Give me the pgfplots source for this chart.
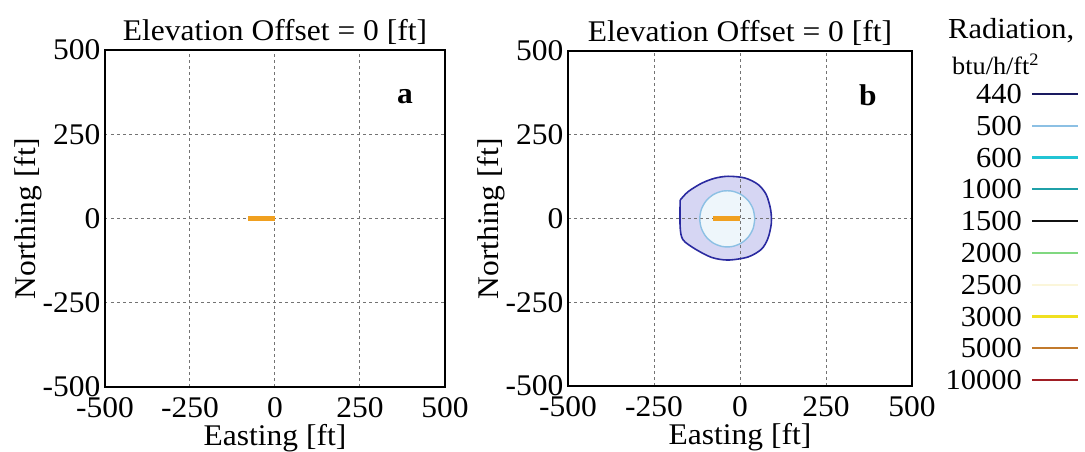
\documentclass[border=0pt]{standalone}
\usepackage{fontspec}
\setmainfont{Liberation Serif}[FakeStretch=1.05]
\usepackage{pgfplots}
\usepackage{pgfplotstable}
\pgfplotsset{compat=1.18}

\definecolor{c440}{HTML}{1A1A60}
\definecolor{c440line}{HTML}{2A2AA0}
\definecolor{c440fill}{HTML}{D6D6F3}
\definecolor{c500}{HTML}{8CC0E4}
\definecolor{c500fill}{HTML}{EEF6FB}
\definecolor{c600}{HTML}{22C4D4}
\definecolor{c1000}{HTML}{1FA0A8}
\definecolor{c1500}{HTML}{111111}
\definecolor{c2000}{HTML}{80D880}
\definecolor{c2500}{HTML}{FBF6DA}
\definecolor{c3000}{HTML}{F0E020}
\definecolor{c5000}{HTML}{C27A2C}
\definecolor{c10000}{HTML}{A01E24}
\definecolor{src}{HTML}{F0A020}

% radiation contour 440 btu/h/ft2
\pgfplotstableread{
x y
-174 55
-151 80
-112 105
-74 120
-35 126
14 121
52 102
76 72
89 27
91 -15
81 -60
62 -92
23 -115
-35 -124
-83 -116
-132 -90
-166 -63
-174 -25
-174 55
}\contourA

% radiation contour 500 btu/h/ft2
\pgfplotstableread{
x y
43 -1
38.2 27.7
24.3 53
3 71.7
-23.1 81.7
-50.9 81.7
-77 71.7
-98.3 53
-112.2 27.7
-117 -1
-112.2 -29.7
-98.3 -55
-77 -73.7
-50.9 -83.7
-23.1 -83.7
3 -73.7
24.3 -55
38.2 -29.7
43 -1
}\contourB

\newcommand{\bigfont}{\fontsize{30}{32}\selectfont}
\newcommand{\legfont}{\fontsize{29}{31}\selectfont}

\pgfplotsset{
  panel/.style={
    scale only axis,
    xmin=-500, xmax=500, ymin=-500, ymax=500,
    xtick={-500,-250,0,250,500},
    ytick={-500,-250,0,250,500},
    xticklabels={-500,-250,0,250,500},
    yticklabels={-500,-250,0,250,500},
    major tick length=0pt,
    grid=major,
    grid style={dash pattern=on 2.5pt off 3.5pt, black!55, line width=1pt},
    axis line style={line width=1.8pt},
    tick label style={font=\bigfont},
    xticklabel style={yshift=-7pt},
    yticklabel style={xshift=-1pt},
    label style={font=\bigfont},
    title style={font=\bigfont, yshift=-4pt},
    xlabel={Easting [ft]},
    ylabel={Northing [ft]},
    title={Elevation Offset = 0 [ft]},
    xlabel style={yshift=0pt},
    ylabel style={yshift=-6pt},
  }
}

\begin{document}
\begin{tikzpicture}

\begin{axis}[panel, at={(105pt,65pt)}, anchor=south west, width=340pt, height=337pt]
  \addplot[src, line width=4.5pt] coordinates {(-78,0) (0,0)};
  \node[font=\bigfont\bfseries] at (axis cs:382,362) {a};
\end{axis}

\begin{axis}[panel, set layers, at={(568pt,66pt)}, anchor=south west, width=344pt, height=335pt]
  \addplot[on layer=axis background, fill=c440fill, draw=none, smooth] table {\contourA};
  \addplot[on layer=axis background, fill=c500fill, draw=none, smooth] table {\contourB};
  \addplot[c440line, line width=1.6pt, smooth] table {\contourA};
  \addplot[c500, line width=1.4pt, smooth] table {\contourB};
  \addplot[src, line width=4.5pt] coordinates {(-78,0) (0,0)};
  \node[font=\bigfont\bfseries] at (axis cs:372,368) {b};
\end{axis}

% legend
\node[font=\legfont, anchor=west, inner sep=0pt] at (948pt,421pt) {Radiation,};
\node[font=\fontsize{25}{27}\selectfont, anchor=west, inner sep=0pt] at (952pt,388pt) {btu/h/ft\textsuperscript{2}};
\foreach \lab/\col [count=\i from 0] in {440/c440,500/c500,600/c600,1000/c1000,1500/c1500,2000/c2000,2500/c2500,3000/c3000,5000/c5000,10000/c10000}{
  \pgfmathsetmacro{\yy}{358-31.8*\i}
  \node[font=\legfont, anchor=east, inner sep=0pt] at (1022pt,\yy pt) {\lab};
  \draw[\col, line width=2.2pt] (1032pt,\yy pt) -- (1078pt,\yy pt);
}
\pgfresetboundingbox
\useasboundingbox (0,0) rectangle (1085pt,452pt);
\end{tikzpicture}
\end{document}
